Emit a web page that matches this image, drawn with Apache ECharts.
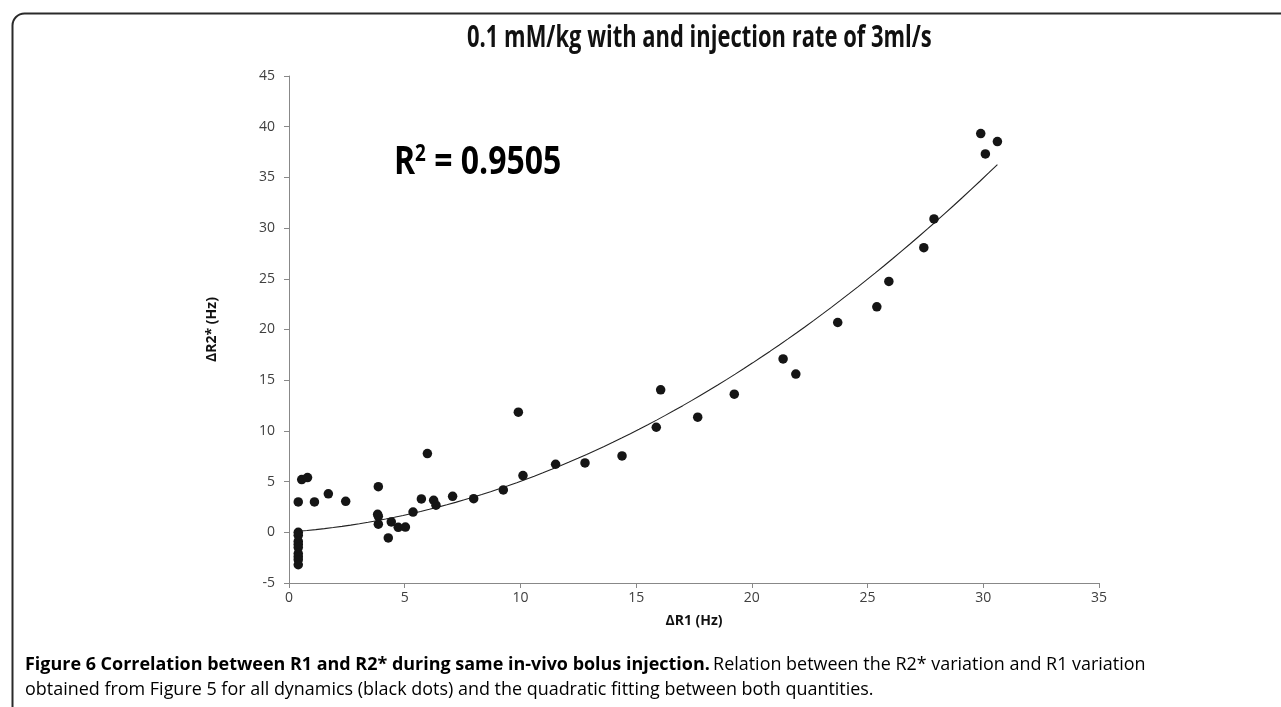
<!DOCTYPE html>
<html>
<head>
<meta charset="utf-8">
<script src="https://cdn.jsdelivr.net/npm/echarts@6/dist/echarts.min.js"></script>
<style>
  html, body { margin: 0; padding: 0; background: #fff; }
  #chart { width: 1281px; height: 707px; }
</style>
</head>
<body>
<div id="chart"></div>
<script>
// ΔR1 (Hz) of each dynamic
const r1 = [
  0.4, 0.4, 0.4, 0.4, 0.4, 0.4, 0.4, 0.4, 0.4,
  0.4, 0.55, 0.8, 1.1, 1.7, 2.45,
  3.86, 3.83, 3.86, 3.86, 4.29, 4.42, 4.72, 5.03, 5.36, 5.72, 5.98, 6.25, 6.35, 7.07, 7.98,
  9.26, 9.91, 10.11, 11.52, 12.79, 14.39, 15.87, 16.06, 17.66, 19.24,
  21.35, 21.9, 23.71, 25.4, 25.92, 27.43, 27.87, 29.89, 30.09, 30.61
];
// ΔR2* (Hz) of each dynamic
const r2s = [
  0.0, -0.3, -0.9, -1.2, -1.5, -2.1, -2.4, -2.7, -3.2,
  3.0, 5.2, 5.4, 3.0, 3.8, 3.05,
  4.5, 1.78, 1.58, 0.8, -0.56, 1.02, 0.49, 0.52, 2.0, 3.29, 7.76, 3.16, 2.67, 3.55, 3.32,
  4.18, 11.85, 5.59, 6.71, 6.84, 7.53, 10.36, 14.05, 11.35, 13.62,
  17.1, 15.6, 20.69, 22.24, 24.74, 28.07, 30.9, 39.32, 37.31, 38.53
];
// quadratic trendline coefficients: y = a*x^2 + b*x + c
const fitCoef = { a: 0.0332, b: 0.1675, c: 0.028 };
const fitRange = [0.4, 30.61];
const xTicks = { min: 0, max: 35, interval: 5 };
const yTicks = { min: -5, max: 45, interval: 5 };
const rSquared = '0.9505';

const points = r1.map((x, i) => [x, r2s[i]]);
const fitLine = [];
for (let k = 0; k <= 80; k++) {
  const x = fitRange[0] + (fitRange[1] - fitRange[0]) * k / 80;
  fitLine.push([x, fitCoef.a * x * x + fitCoef.b * x + fitCoef.c]);
}

const chart = echarts.init(document.getElementById('chart'), null, { renderer: 'canvas' });
const font = '"Open Sans", "Noto Sans", sans-serif';

chart.setOption({
  animation: false,
  backgroundColor: '#fff',
  textStyle: { fontFamily: font },
  grid: { left: 289, right: 182, top: 76, bottom: 124 },
  xAxis: {
    type: 'value', min: xTicks.min, max: xTicks.max, interval: xTicks.interval,
    name: 'ΔR1 (Hz)', nameLocation: 'middle', nameGap: 31,
    nameTextStyle: { fontWeight: 'bold', fontSize: 14, color: '#111' },
    axisLine: { onZero: false, lineStyle: { color: '#888', width: 1 } },
    axisTick: { show: true, length: 5, lineStyle: { color: '#888' } },
    axisLabel: { fontSize: 14, color: '#404040', margin: 8 },
    splitLine: { show: false }
  },
  yAxis: {
    type: 'value', min: yTicks.min, max: yTicks.max, interval: yTicks.interval,
    name: 'ΔR2* (Hz)', nameLocation: 'middle', nameGap: 70, nameRotate: 90,
    nameTextStyle: { fontWeight: 'bold', fontSize: 14, color: '#111' },
    axisLine: { show: true, onZero: false, lineStyle: { color: '#888', width: 1 } },
    axisTick: { show: true, length: 5, lineStyle: { color: '#888' } },
    axisLabel: { fontSize: 14, color: '#404040', margin: 14 },
    splitLine: { show: false }
  },
  series: [
    {
      type: 'line', data: fitLine, showSymbol: false, smooth: false,
      lineStyle: { color: '#222', width: 1.1 }, z: 2
    },
    {
      type: 'scatter', data: points, symbol: 'circle', symbolSize: 9.5,
      itemStyle: { color: '#151515', opacity: 1 }, z: 3
    }
  ],
  graphic: [
    {
      type: 'rect', left: 10, top: 11, z: -1,
      shape: { x: 0, y: 0, width: 1300, height: 720, r: [12, 0, 0, 0] },
      style: { fill: 'none', stroke: '#2a2a2a', lineWidth: 2 }
    },
    {
      // chart title, set in a condensed bold face
      type: 'text', x: 467, y: 23, scaleX: 0.72,
      style: {
        text: '0.1 mM/kg with and injection rate of 3ml/s',
        fontFamily: font, fontWeight: 'bold', fontSize: 30.5, fill: '#111'
      }
    },
    {
      type: 'text', x: 394, y: 143, scaleX: 0.82,
      style: {
        text: '{b|R}{s|2}{b| = ' + rSquared + '}',
        rich: {
          b: { fontFamily: font, fontWeight: 'bold', fontSize: 39, color: '#1a1a1a', verticalAlign: 'bottom' },
          s: { fontFamily: font, fontWeight: 'bold', fontSize: 23, color: '#1a1a1a', verticalAlign: 'top', padding: [0, 0, 16, 0] }
        }
      }
    },
    {
      type: 'text', x: 25, y: 652, scaleX: 0.97,
      style: {
        text: '{b|Figure 6 Correlation between R1 and R2* during same in-vivo bolus injection.} {n|Relation between the R2* variation and R1 variation}\n{n|obtained from Figure 5 for all dynamics (black dots) and the quadratic fitting between both quantities.}',
        rich: {
          b: { fontFamily: font, fontWeight: 'bold', fontSize: 18.5, color: '#231f20', lineHeight: 25 },
          n: { fontFamily: font, fontSize: 18.5, color: '#333', lineHeight: 25 }
        }
      }
    }
  ]
});
</script>
</body>
</html>
